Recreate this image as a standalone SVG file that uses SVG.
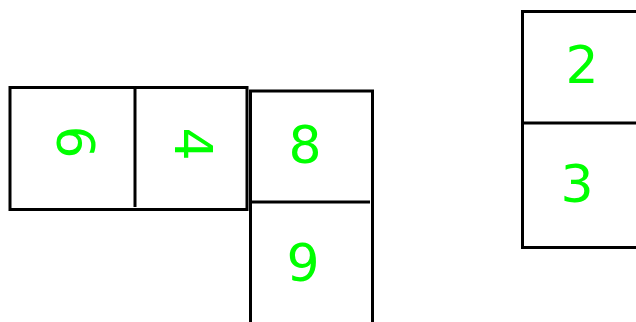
<svg xmlns="http://www.w3.org/2000/svg" width="636" height="322" viewBox="0 0 636 322">
<style>
.b{fill:none;stroke:#000;stroke-width:3}
.t{font-family:"DejaVu Sans",sans-serif;font-size:52px;fill:#00ff00;text-anchor:middle}
</style>
<rect width="636" height="322" fill="#fff"/>
<g id="node-left">
<rect class="b" x="10" y="87.5" width="237" height="122"/>
<line class="b" x1="135" y1="87.5" x2="135" y2="207"/>
<g transform="translate(76,142) rotate(90)"><text class="t" x="0" y="19">6</text></g>
<g transform="translate(194,144) rotate(90)"><text class="t" x="0" y="19">4</text></g>
</g>
<g id="node-middle">
<path class="b" d="M250.5 330 V91 H372.5 V330"/>
<line class="b" x1="250.5" y1="202" x2="370" y2="202"/>
<text class="t" x="305" y="163">8</text>
<text class="t" x="303" y="281">9</text>
</g>
<g id="node-right">
<path class="b" d="M645 11.5 H522.5 V247.5 H645"/>
<line class="b" x1="522.5" y1="123" x2="645" y2="123"/>
<text class="t" x="582" y="83">2</text>
<text class="t" x="577" y="202">3</text>
</g>
<g id="connectors"/>
</svg>
